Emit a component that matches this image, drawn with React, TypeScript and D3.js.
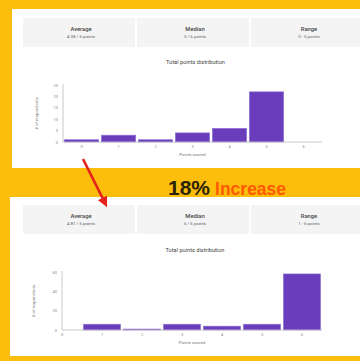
import React from "react";
import * as d3 from "d3";

const categories = [0, 1, 2, 3, 4, 5, 6];
const beforeValues = [1, 3, 1, 4, 6, 22, 0];
const afterValues = [0, 6, 1, 6, 4, 6, 58];
const beforeYTicks = [0, 5, 10, 15, 20, 25];
const afterYTicks = [0, 20, 40, 60];
const statLabels = ["Average", "Median", "Range"];
const beforeStats = ["4.08 / 6 points", "5 / 6 points", "0 - 5 points"];
const afterStats = ["4.81 / 6 points", "6 / 6 points", "1 - 6 points"];

const FONT = "Roboto, 'Noto Sans', sans-serif";
const PURPLE = "#6a3dbd";
const YELLOW = "#fcbd0c";

type ChartProps = {
  values: number[];
  yTicks: number[];
  xDomain: [number, number];
  xRange: [number, number];
  yRange: [number, number];
  title: string;
  titleY: number;
  yTitleX: number;
};

function Chart({ values, yTicks, xDomain, xRange, yRange, title, titleY, yTitleX }: ChartProps) {
  const x = d3.scaleLinear().domain(xDomain).range(xRange);
  const y = d3.scaleLinear().domain([0, yTicks[yTicks.length - 1]]).range(yRange);
  const step = x(1) - x(0);
  const bw = step * 0.93;
  const base = y(0);
  return (
    <g fontFamily={FONT}>
      <text x={(xRange[0] + xRange[1]) / 2 + 3} y={titleY} fontSize={5.6} fill="#444" textAnchor="middle">
        {title}
      </text>
      {yTicks.map((t) => (
        <text key={t} x={xRange[0] - 5} y={y(t) + 1.5} fontSize={4} fill="#888" textAnchor="end">
          {t}
        </text>
      ))}
      <line x1={xRange[0]} x2={xRange[0]} y1={y(yTicks[yTicks.length - 1]) - 1} y2={base} stroke="#bbb" strokeWidth={0.8} />
      {categories.map((c, i) =>
        values[i] > 0 ? (
          <rect
            key={c}
            x={x(c) - bw / 2}
            y={y(values[i])}
            width={bw}
            height={base - y(values[i])}
            fill={PURPLE}
            stroke="#9477d6"
            strokeWidth={0.6}
          />
        ) : null
      )}
      <line x1={xRange[0]} x2={xRange[1]} y1={base} y2={base} stroke="#bbb" strokeWidth={0.8} />
      {categories.map((c) => (
        <text key={c} x={x(c)} y={base + 6} fontSize={4} fill="#888" textAnchor="middle">
          {c}
        </text>
      ))}
      <text x={(xRange[0] + xRange[1]) / 2} y={base + 14} fontSize={4.3} fill="#777" textAnchor="middle">
        Points scored
      </text>
      <text
        transform={`translate(${yTitleX},${(y(yTicks[yTicks.length - 1]) + base) / 2}) rotate(-90)`}
        fontSize={4.3}
        fill="#777"
        textAnchor="middle"
      >
        # of respondents
      </text>
    </g>
  );
}

function Stats({ y, labels, subs }: { y: number; labels: string[]; subs: string[] }) {
  const x0 = 23;
  const w = 112;
  return (
    <g fontFamily={FONT}>
      {labels.map((l, i) => (
        <g key={l}>
          <rect x={x0 + i * (w + 2)} y={y} width={w} height={29} fill="#f4f4f5" />
          <text x={x0 + i * (w + 2) + w / 2 + 2} y={y + 12.5} fontSize={5.8} fill="#444" textAnchor="middle" fontWeight={500}>
            {l}
          </text>
          <text x={x0 + i * (w + 2) + w / 2 + 2} y={y + 20} fontSize={4.4} fill="#666" textAnchor="middle">
            {subs[i]}
          </text>
        </g>
      ))}
    </g>
  );
}

export default function App() {
  return (
    <svg width={360} height={361} style={{ position: "absolute", left: 0, top: 0 }}>
      <rect x={0} y={0} width={360} height={361} fill={YELLOW} />
      <rect x={12} y={9} width={348} height={159} fill="#ffffff" />
      <rect x={10} y={197} width={350} height={159} fill="#ffffff" />

      <Stats y={18} labels={statLabels} subs={beforeStats} />
      <Chart
        values={beforeValues}
        yTicks={beforeYTicks}
        xDomain={[-0.5, 6.5]}
        xRange={[63, 322]}
        yRange={[142, 85]}
        title="Total points distribution"
        titleY={64}
        yTitleX={38}
      />

      <Stats y={205} labels={statLabels} subs={afterStats} />
      <Chart
        values={afterValues}
        yTicks={afterYTicks}
        xDomain={[0, 6.5]}
        xRange={[62, 322]}
        yRange={[330, 272]}
        title="Total points distribution"
        titleY={252}
        yTitleX={35}
      />

      <defs>
        <marker id="ah" markerWidth={4} markerHeight={4} refX={2.2} refY={2} orient="auto" markerUnits="strokeWidth">
          <path d="M0,0 L4,2 L0,4 Z" fill="#e5231b" />
        </marker>
      </defs>
      <line x1={83} y1={159} x2={105} y2={203} stroke="#e5231b" strokeWidth={2.6} markerEnd="url(#ah)" />

      <text x={168} y={195} fontFamily="'Liberation Sans', Arial, sans-serif" fontWeight={700}>
        <tspan fontSize={21} fill="#2b2306">18%</tspan>
        <tspan fontSize={17.5} fill="#ff5a00" dx={5}>Increase</tspan>
      </text>
    </svg>
  );
}
